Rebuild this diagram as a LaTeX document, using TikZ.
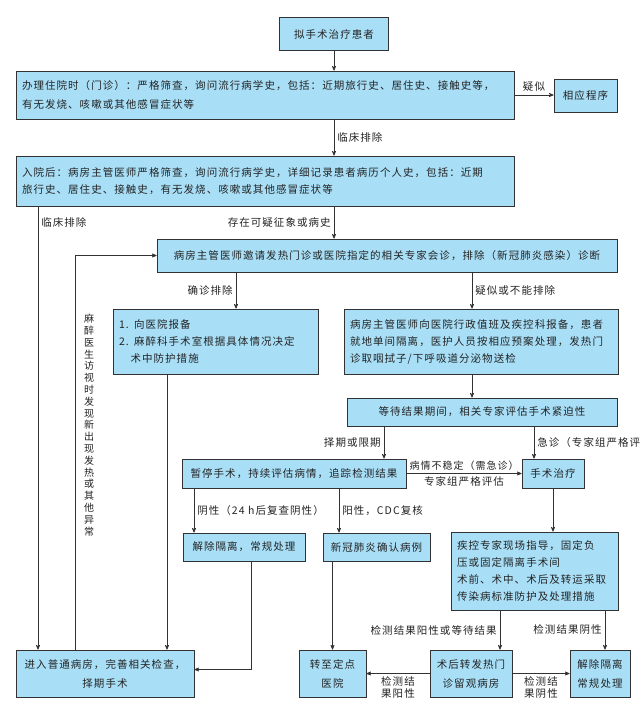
\documentclass[tikz,border=0pt]{standalone}
\usepackage{fontspec}
\newfontfamily\cjk[LetterSpace=10]{Noto Sans CJK SC}
\usepackage{tikz}
\usetikzlibrary{arrows,positioning}
\definecolor{boxblue}{RGB}{168,223,247}
\definecolor{linegray}{RGB}{50,50,50}
\definecolor{textgray}{RGB}{35,35,35}

\begin{document}
\begin{tikzpicture}[x=1pt, y=-1pt, >=stealth', semithick,
  every node/.style={font=\cjk\fontsize{10.5}{17}\selectfont, text=textgray},
  box/.style={draw=linegray, fill=boxblue, line width=0.9pt, inner sep=0pt, align=center},
  lbox/.style={box, align=left, inner xsep=6pt},
  lbl/.style={inner sep=3pt},
  flow/.style={->, draw=linegray, line width=0.65pt}]
\useasboundingbox (0,0) rectangle (641,707);

% boxes
\node[box, minimum width=109pt, minimum height=33pt] (start) at (334,34) {拟手术治疗患者};
\node[lbox, text width=486pt, minimum height=48pt, font=\cjk\fontsize{10.5}{19}\selectfont] (outpat) at (265,95)
  {办理住院时（门诊）：严格筛查，询问流行病学史，包括：近期旅行史、居住史、接触史等，\\有无发烧、咳嗽或其他感冒症状等};
\node[box, minimum width=63pt, minimum height=33pt] (other) at (585.5,95.5) {相应程序};
\node[lbox, text width=486pt, minimum height=50pt] (ward) at (265,181)
  {入院后：病房主管医师严格筛查，询问流行病学史，详细记录患者病历个人史，包括：近期\\旅行史、居住史、接触史，有无发烧、咳嗽或其他感冒症状等};
\node[box, minimum width=460pt, minimum height=33pt] (consult) at (387,255.5)
  {病房主管医师邀请发热门诊或医院指定的相关专家会诊，排除（新冠肺炎感染）诊断};
\node[lbox, text width=193pt, minimum height=65pt] (report) at (215.5,341.5)
  {1. 向医院报备\\2. 麻醉科手术室根据具体情况决定\\\hspace*{1.1em}术中防护措施};
\node[lbox, text width=262pt, minimum height=65pt] (isolate) at (481,341.5)
  {病房主管医师向医院行政值班及疾控科报备，患者\\就地单间隔离，医护人员按相应预案处理，发热门\\诊取咽拭子/下呼吸道分泌物送检};
\node[box, minimum width=270pt, minimum height=28pt] (wait) at (482,412) {等待结果期间，相关专家评估手术紧迫性};
\node[box, minimum width=224pt, minimum height=29pt] (pause) at (294,473.5) {暂停手术，持续评估病情，追踪检测结果};
\node[box, minimum width=62pt, minimum height=29pt] (surg) at (553,473.5) {手术治疗};
\node[box, minimum width=122pt, minimum height=28pt] (release) at (244,547) {解除隔离，常规处理};
\node[box, minimum width=107pt, minimum height=28pt] (confirm) at (376.5,547) {新冠肺炎确认病例};
\node[lbox, text width=155pt, minimum height=78pt] (cdc) at (534.5,571)
  {疾控专家现场指导，固定负\\压或固定隔离手术间\\术前、术中、术后及转运采取\\传染病标准防护及处理措施};
\node[box, minimum width=178pt, minimum height=47pt, font=\cjk\fontsize{10.5}{19}\selectfont] (general) at (105,673.5)
  {进入普通病房，完善相关检查，\\择期手术};
\node[box, minimum width=67pt, minimum height=47pt, font=\cjk\fontsize{10.5}{19}\selectfont] (fixed) at (332.5,673.5) {转至定点\\医院};
\node[box, minimum width=82pt, minimum height=47pt, font=\cjk\fontsize{10.5}{19}\selectfont] (fever) at (471,673.5) {术后转发热门\\诊留观病房};
\node[box, minimum width=60pt, minimum height=47pt, font=\cjk\fontsize{10.5}{19}\selectfont] (release2) at (600,673.5) {解除隔离\\常规处理};

% columns of the vertical connectors
\coordinate (colA) at (38,0);
\coordinate (colB) at (75,0);
\coordinate (colC) at (236,0);
\coordinate (colD) at (472,0);
\coordinate (colE) at (167,0);
\coordinate (colF) at (384,0);
\coordinate (colG) at (534,0);
\coordinate (colH) at (194,0);
\coordinate (colI) at (339,0);
\coordinate (colJ) at (251,0);
\coordinate (colK) at (500,0);
\coordinate (colL) at (605,0);

% connectors
\draw[flow] (start.south) -- (start.south |- outpat.north);
\draw[flow] (outpat.east) -- node[lbl, above] {疑似} (outpat.east -| other.west);
\draw[flow] (start.south |- outpat.south) -- node[lbl, right] {临床排除} (start.south |- ward.north);
\draw[flow] (start.south |- ward.south) -- node[lbl, left] {存在可疑征象或病史} (start.south |- consult.north);
\draw[flow] (colA |- ward.south) -- node[lbl, anchor=west, pos=0.036] {临床排除} (colA |- general.north);
\draw[flow] (colB |- general.north) |- (consult.west);
\node[lbl, align=center, font=\cjk\fontsize{10}{11.8}\selectfont] (note) at (89,425)
  {麻\\醉\\医\\生\\访\\视\\时\\发\\现\\新\\出\\现\\发\\热\\或\\其\\他\\异\\常};
\draw[flow] (colC |- consult.south) -- node[lbl, left] {确诊排除} (colC |- report.north);
\draw[flow] (colD |- consult.south) -- node[lbl, right] {疑似或不能排除} (colD |- isolate.north);
\draw[flow] (colE |- report.south) -- (colE |- general.north);
\draw[flow] (colD |- isolate.south) -- (colD |- wait.north);
\draw[flow] (colF |- wait.south) -- node[lbl, left] {择期或限期} (colF |- pause.north);
\draw[flow] (colG |- wait.south) -- node[lbl, right] {急诊（专家组严格评} (colG |- surg.north);
\draw[flow] (pause.east) -- node[lbl, above, font=\cjk\fontsize{10}{12}\selectfont] {病情不稳定（需急诊）}
  node[lbl, below] {专家组严格评估} (pause.east -| surg.west);
\draw[flow] (colH |- pause.south) -- node[lbl, right] {阴性（24 h后复查阴性）} (colH |- release.north);
\draw[flow] (colI |- pause.south) -- node[lbl, right] {阳性，CDC复核} (colI |- confirm.north);
\draw[flow] (surg.south) -- (surg.south |- cdc.north);
\draw[flow] (colJ |- release.south) |- ([yshift=4pt]general.east);
\draw[flow] (fixed.north |- confirm.south) -- (fixed.north);
\draw[flow] (colK |- cdc.south) -- node[lbl, left] {检测结果阳性或等待结果} (colK |- fever.north);
\draw[flow] (colL |- cdc.south) -- node[lbl, left] {检测结果阴性} (colL |- release2.north);
\draw[flow] (fever.west) -- node[lbl, below, align=center, font=\cjk\fontsize{10.5}{12}\selectfont] {检测结\\果阳性} (fixed.east);
\draw[flow] (fever.east) -- node[lbl, below, align=center, font=\cjk\fontsize{10.5}{12}\selectfont] {检测结\\果阴性} (release2.west);
\end{tikzpicture}
\end{document}
